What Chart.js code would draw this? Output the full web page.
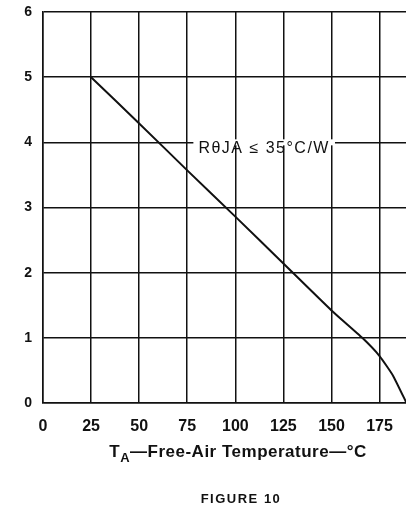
<!DOCTYPE html>
<html>
<head>
<meta charset="utf-8">
<script src="https://cdn.jsdelivr.net/npm/chart.js@4.4.0/dist/chart.umd.min.js"></script>
<style>
  html, body { margin: 0; padding: 0; background: #fff; overflow: hidden; }
  #wrap { width: 455px; height: 508px; }
</style>
</head>
<body>
<div id="wrap"><canvas id="deratingChart" width="455" height="508"></canvas></div>
<script>
// values
const temperatures = [25, 50, 75, 100, 125, 150, 166, 175, 182, 189];
const dissipation = [5, 4.29, 3.57, 2.86, 2.14, 1.42, 1.0, 0.72, 0.42, 0];
const xTicks = [0, 25, 50, 75, 100, 125, 150, 175, 200];
const yTicks = [0, 1, 2, 3, 4, 5, 6];

const ink = "#111";
const face = "'Liberation Sans', Arial, sans-serif";

// axis title, caption and R-theta note drawn on top of the chart
const notesPlugin = {
  id: "notes",
  afterDraw(chart) {
    const ctx = chart.ctx;
    const x = chart.scales.x;
    const y = chart.scales.y;
    ctx.save();
    ctx.fillStyle = ink;
    ctx.textBaseline = "middle";

    // note label sitting on the 4 W grid line
    ctx.letterSpacing = "1.5px";
    ctx.font = "16px " + face;
    const note = "R\u03B8JA \u2264 35\u00B0C/W";
    const nx = x.getPixelForValue(115);
    const ny = y.getPixelForValue(3.9);
    const nw = ctx.measureText(note).width;
    ctx.fillStyle = "#fff";
    ctx.fillRect(nx - nw / 2 - 5, y.getPixelForValue(4) - 3, nw + 10, 6);
    ctx.fillStyle = ink;
    ctx.textAlign = "center";
    ctx.fillText(note, nx, ny);

    // x axis title with subscript A
    ctx.letterSpacing = "0.5px";
    ctx.font = "bold 17px " + face;
    const rest = "\u2014Free-Air Temperature\u2014\u00B0C";
    const tW = ctx.measureText("T").width;
    const restW = ctx.measureText(rest).width;
    ctx.font = "bold 13px " + face;
    const subW = ctx.measureText("A").width;
    const start = 238 - (tW + subW + restW) / 2;
    const ty = 452;
    ctx.textAlign = "left";
    ctx.font = "bold 17px " + face;
    ctx.fillText("T", start, ty);
    ctx.font = "bold 13px " + face;
    ctx.fillText("A", start + tW, ty + 6);
    ctx.font = "bold 17px " + face;
    ctx.fillText(rest, start + tW + subW, ty);

    // figure caption
    ctx.letterSpacing = "1.5px";
    ctx.font = "bold 13px " + face;
    ctx.textAlign = "center";
    ctx.fillText("FIGURE 10", 241, 499);
    ctx.restore();
  }
};

const ctx = document.getElementById("deratingChart").getContext("2d");
new Chart(ctx, {
  type: "line",
  data: {
    datasets: [{
      data: temperatures.map((t, i) => ({ x: t, y: dissipation[i] })),
      borderColor: ink,
      borderWidth: 2,
      pointRadius: 0,
      tension: 0.15,
      fill: false
    }]
  },
  options: {
    responsive: false,
    animation: false,
    layout: { padding: { top: 12, right: 12, left: 0, bottom: 0 } },
    plugins: {
      legend: { display: false },
      tooltip: { enabled: false }
    },
    scales: {
      x: {
        type: "linear",
        min: 0,
        max: 200,
        afterBuildTicks: (scale) => { scale.ticks = xTicks.map(v => ({ value: v })); },
        afterFit: (scale) => { scale.height = 105; },
        grid: { color: ink, lineWidth: 1.5, drawTicks: false },
        border: { color: ink, width: 1.5 },
        ticks: {
          color: ink,
          padding: 14,
          maxRotation: 0,
          autoSkip: false,
          font: { family: face, size: 16, weight: "bold" }
        }
      },
      y: {
        min: 0,
        max: 6,
        afterBuildTicks: (scale) => { scale.ticks = yTicks.map(v => ({ value: v })); },
        afterFit: (scale) => {
          scale.width = 43;
          scale.paddingTop = 0;
          scale.paddingBottom = 0;
        },
        grid: { color: ink, lineWidth: 1.5, drawTicks: false },
        border: { color: ink, width: 1.5 },
        ticks: {
          color: ink,
          padding: 11,
          font: { family: face, size: 14, weight: "bold" }
        }
      }
    }
  },
  plugins: [notesPlugin]
});
</script>
</body>
</html>
